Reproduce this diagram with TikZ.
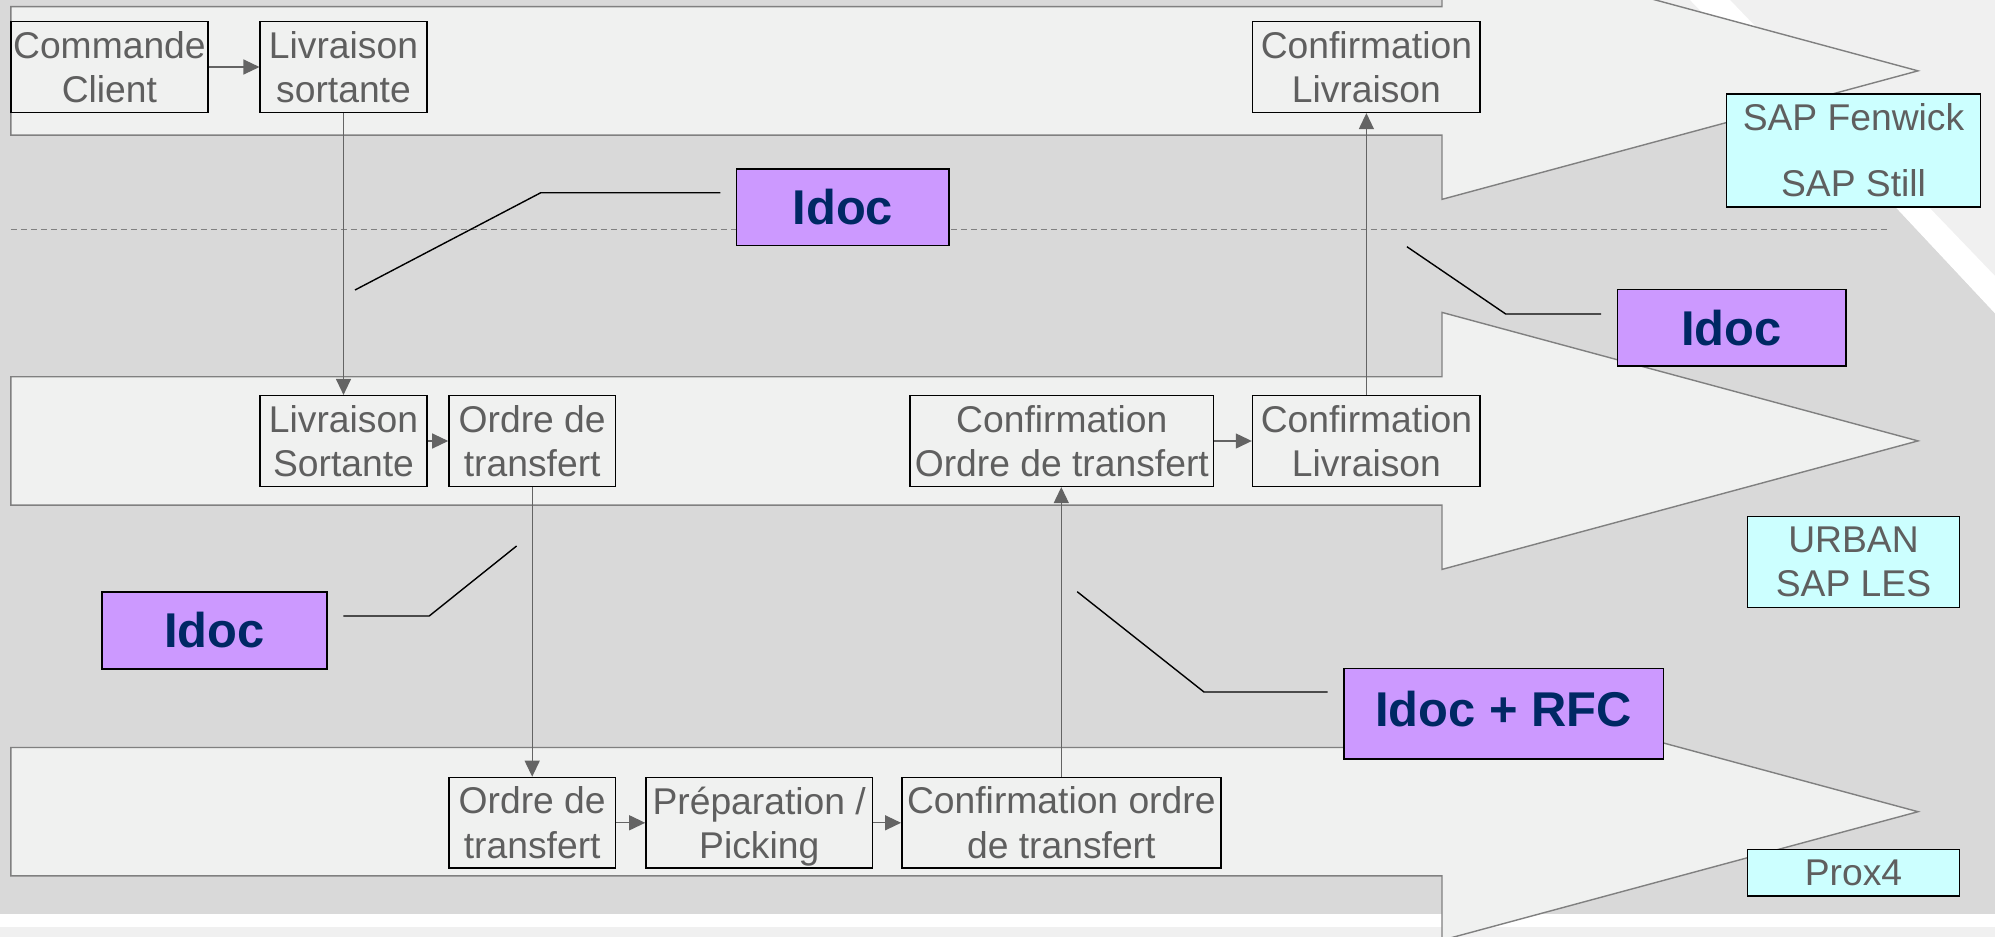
\documentclass[tikz,border=0pt]{standalone}
\usepackage{fontspec}
\setmainfont{Liberation Sans}
\usetikzlibrary{arrows.meta}

\definecolor{fundo}{RGB}{217,217,217}
\definecolor{claro}{RGB}{240,241,240}
\definecolor{palido}{RGB}{240,240,240}
\definecolor{borda}{RGB}{128,128,128}
\definecolor{texto}{RGB}{95,95,95}
\definecolor{seta}{RGB}{100,100,100}
\definecolor{lilas}{RGB}{204,153,255}
\definecolor{ciano}{RGB}{204,255,255}
\definecolor{marinho}{RGB}{0,40,100}

\begin{document}
\begin{tikzpicture}[x=0.1mm,y=-0.1mm]
% Estilos
\tikzset{step box/.style={draw=black,line width=.45pt,fill=claro,text=texto,inner sep=0pt,align=center,minimum height=9.06mm,font=\fontsize{10.6}{12.6}\selectfont},
  idoc box/.style={draw=black,line width=.45pt,fill=lilas,text=marinho,inner sep=0pt,minimum height=7.65mm,font=\fontsize{13.9}{16}\selectfont\bfseries},
  sys box/.style={draw=black,line width=.45pt,fill=ciano,text=texto,inner sep=0pt,align=center,font=\fontsize{10.6}{12.6}\selectfont},
  band/.style={draw=borda,line width=.4pt,fill=claro},
  flow/.style={draw=seta,line width=.35pt,-{Triangle[length=1.6mm,width=1.5mm]}},
  leader/.style={draw=black,line width=.4pt,shorten >=1.55mm}}

% Fundo
\clip (0,0) rectangle (1995,937);
\fill[palido] (0,0) rectangle (1995,937);
\fill[fundo] (0,0) -- (1650,0) -- (1896.7,208.3) -- (1995,313.3) -- (1995,914) -- (0,914) -- cycle;
\fill[white] (1690,0) -- (1730,0) -- (1995,276) -- (1995,313.3) -- (1896.7,208.3) -- cycle;
\fill[white] (0,914) rectangle (1995,927);

% Bandes
\foreach \y in {70.85,440.9,811.7}
  \draw[band] (10.8,\y-64.2) -- (1442,\y-64.2) -- (1442,\y-128.5) -- (1918,\y)
    -- (1442,\y+128.5) -- (1442,\y+64.2) -- (10.8,\y+64.2) -- cycle;

\draw[borda,line width=.4pt,dash pattern=on .6mm off .4mm] (10.8,229.3) -- (1886.5,229.3);

% Etapes
\node[step box,minimum width=19.7mm] (cc) at (109.4,67) {Commande\\Client};
\node[step box,minimum width=16.65mm] (ls1) at (343.5,67) {Livraison\\sortante};
\node[step box,minimum width=22.76mm] (cl1) at (1366.4,67) {Confirmation\\Livraison};

\node[step box,minimum width=16.65mm] (ls2) at (343.5,441) {Livraison\\Sortante};
\node[step box,minimum width=16.64mm] (ot2) at (532.2,441) {Ordre de\\transfert};
\node[step box,minimum width=30.36mm] (cot2) at (1061.8,441) {Confirmation\\Ordre de transfert};
\node[step box,minimum width=22.76mm] (cl2) at (1366.4,441) {Confirmation\\Livraison};

\node[step box,minimum width=16.64mm] (ot3) at (532.2,822.8) {Ordre de\\transfert};
\node[step box,minimum width=22.64mm] (pp3) at (759.2,822.8) {Préparation /\\\raisebox{0pt}[\height][0pt]{Picking}};
\node[step box,minimum width=31.89mm] (cot3) at (1061.3,822.8) {Confirmation ordre\\de transfert};

% Interfaces
\node[idoc box,minimum width=21.24mm] (id1) at (842.8,207.4) {Idoc};
\node[idoc box,minimum width=22.84mm] (id2) at (1731.5,327.9) {Idoc};
\node[idoc box,minimum width=22.52mm] (id3) at (214.6,630.5) {Idoc};
\node[idoc box,minimum width=31.95mm,minimum height=9.07mm,text height=10pt,text depth=2.8pt] (id4) at (1503.6,713.7) {Idoc + RFC};

% Systemes
\node[sys box,minimum width=25.4mm,minimum height=11.27mm] (s1) at (1853.5,150.4) {SAP Fenwick\\[6.3pt]SAP Still};
\node[sys box,minimum width=21.2mm,minimum height=9.1mm] (s2) at (1853.5,562.2) {URBAN\\SAP LES};
\node[sys box,minimum width=21.2mm,minimum height=4.67mm] (s3) at (1853.5,872.7) {Prox4};

% Flux
\draw[flow] (cc) -- (ls1);
\draw[flow] (ls1) -- (ls2);
\draw[flow] (ls2) -- (ot2);
\draw[flow] (ot2) -- (ot3);
\draw[flow] (ot3) -- (pp3);
\draw[flow] (pp3) -- (cot3);
\draw[flow] (cot3.north) -- (cot3.north |- cot2.south);
\draw[flow] (cot2) -- (cl2);
\draw[flow] (cl2) -- (cl1);

% Renvois
\coordinate (a1) at (355,290);   \coordinate (b1) at (540.8,192.7);
\coordinate (a2) at (1406.9,246.7); \coordinate (b2) at (1505.7,314);
\coordinate (a3) at (516.6,546);  \coordinate (b3) at (429.2,616);
\coordinate (a4) at (1077.2,591.7); \coordinate (b4) at (1204,692);
\draw[leader] (a1) -- (b1) -- (b1 -| id1.west);
\draw[leader] (a2) -- (b2) -- (b2 -| id2.west);
\draw[leader] (a3) -- (b3) -- (b3 -| id3.east);
\draw[leader] (a4) -- (b4) -- (b4 -| id4.west);

\end{tikzpicture}
\end{document}
